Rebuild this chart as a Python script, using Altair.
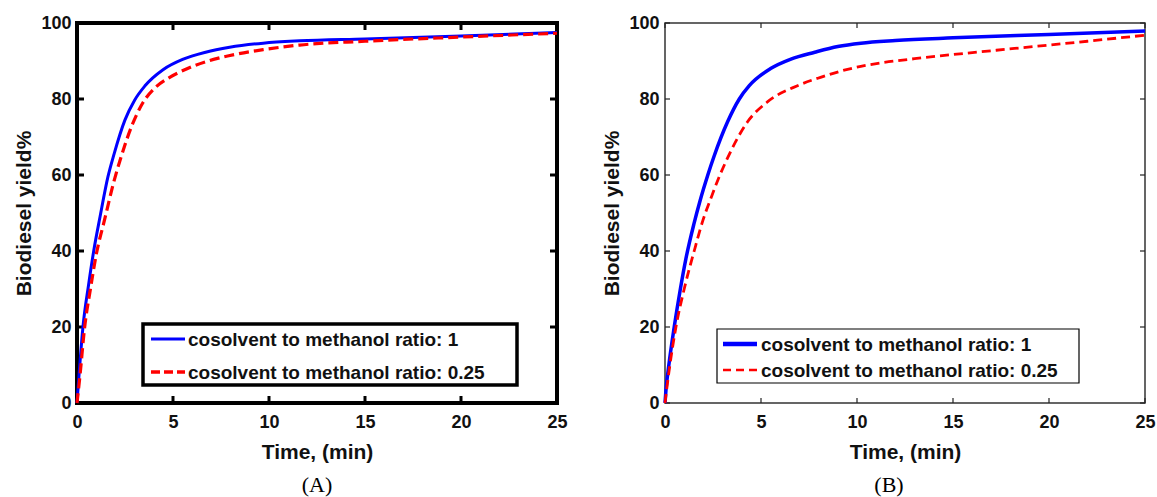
import altair as alt
import pandas as pd

# ---- Panel (A) curves: time (min) vs biodiesel yield (%) ----
a_ratio1_t = [0, 0.1, 0.31, 0.6, 0.87, 1.2, 1.61, 1.93, 2.5, 3.0, 3.53, 4.48, 5.5, 6.7, 7.95, 9.7, 11.6, 15, 20, 25]
a_ratio1_y = [0, 7, 20, 31, 40, 49, 59.5, 65.5, 74.5, 79.7, 83.4, 87.7, 90.4, 92.3, 93.6, 94.7, 95.3, 95.8, 96.6, 97.5]
a_ratio025_t = [0, 0.15, 0.4, 0.7, 1.0, 1.44, 1.96, 2.22, 2.9, 3.43, 4.1, 4.83, 5.7, 6.9, 8.3, 9.7, 11.6, 15, 20, 25]
a_ratio025_y = [0, 7, 20, 30, 39, 48.3, 59, 63.5, 73.5, 79, 83.1, 85.7, 87.9, 90.1, 91.8, 93.0, 94.2, 95.2, 96.3, 97.3]

# ---- Panel (B) curves ----
b_ratio1_t = [0, 0.05, 0.2, 0.48, 0.8, 1.09, 1.5, 1.83, 2.23, 2.56, 3.26, 3.87, 4.39, 5.5, 6.56, 7.8, 9, 10.2, 12, 15, 20, 25]
b_ratio1_y = [0, 3.4, 10, 20, 30, 38, 47, 53.3, 60, 65, 74, 80, 83.5, 88, 90.5, 92.3, 93.8, 94.7, 95.4, 96.1, 97.0, 97.9]
b_ratio025_t = [0, 0.2, 0.57, 1.0, 1.52, 1.97, 2.4, 2.74, 3.26, 4.3, 5.35, 6.9, 8.1, 9.2, 10.2, 11.25, 13, 15, 18.2, 20, 22, 25]
b_ratio025_y = [0, 8, 20, 30, 40, 48, 54, 58.5, 64.5, 74, 79.3, 83.5, 85.7, 87.4, 88.6, 89.5, 90.6, 91.7, 93.3, 94.2, 95.2, 96.8]

x_ticks = [0, 5, 10, 15, 20, 25]
y_ticks = [0, 20, 40, 60, 80, 100]
legend_labels = ["cosolvent to methanol ratio: 1", "cosolvent to methanol ratio: 0.25"]
panel_labels = ["(A)", "(B)"]

W, H = 480, 380
SANS = "Liberation Sans"
SERIF = "Liberation Serif"

x_scale = alt.Scale(domain=[0, 25], nice=False, zero=False)
y_scale = alt.Scale(domain=[0, 100], nice=False, zero=False)
x_axis = alt.Axis(values=x_ticks, title="Time, (min)", labelPadding=10, titlePadding=10)
y_axis = alt.Axis(values=y_ticks, title="Biodiesel yield%", labelPadding=6, titlePadding=6)


def curve(t, y, color, width, dash=None):
    df = pd.DataFrame({"t": t, "y": y})
    kw = dict(color=color, strokeWidth=width, strokeCap="butt", strokeJoin="round",
              interpolate="monotone")
    if dash:
        kw["strokeDash"] = dash
    return alt.Chart(df).mark_line(**kw).encode(
        x=alt.X("t:Q", scale=x_scale, axis=x_axis),
        y=alt.Y("y:Q", scale=y_scale, axis=y_axis),
    )


def inner_ticks(length, width, color):
    xt = pd.DataFrame({"v": x_ticks})
    yt = pd.DataFrame({"v": y_ticks})
    rk = dict(color=color, strokeWidth=width)
    xenc = alt.X("v:Q", scale=x_scale, axis=x_axis)
    yenc = alt.Y("v:Q", scale=y_scale, axis=y_axis)
    return [
        alt.Chart(yt).mark_rule(**rk).encode(y=yenc, x=alt.value(0), x2=alt.value(length)),
        alt.Chart(yt).mark_rule(**rk).encode(y=yenc, x=alt.value(W - length), x2=alt.value(W)),
        alt.Chart(xt).mark_rule(**rk).encode(x=xenc, y=alt.value(H - length), y2=alt.value(H)),
        alt.Chart(xt).mark_rule(**rk).encode(x=xenc, y=alt.value(0), y2=alt.value(length)),
    ]


def legend(box, border, sample_x, rows_y, text_x, widths, dashes):
    one = pd.DataFrame({"k": [0]})
    x0, x1, y0, y1 = box
    parts = [
        alt.Chart(one).mark_rect(fill="white", stroke="black", strokeWidth=border).encode(
            x=alt.value(x0), x2=alt.value(x1), y=alt.value(y0), y2=alt.value(y1)
        )
    ]
    colors = ["#0000ff", "#ff0000"]
    for i, lab in enumerate(legend_labels):
        kw = dict(color=colors[i], strokeWidth=widths[i], strokeCap="butt")
        if dashes[i]:
            kw["strokeDash"] = dashes[i]
        parts.append(
            alt.Chart(one).mark_rule(**kw).encode(
                x=alt.value(sample_x[0]), x2=alt.value(sample_x[1]), y=alt.value(rows_y[i])
            )
        )
        parts.append(
            alt.Chart(pd.DataFrame({"label": [lab]})).mark_text(
                align="left", baseline="middle", font=SANS, fontSize=19, fontWeight="bold", color="#111"
            ).encode(x=alt.value(text_x), y=alt.value(rows_y[i] + 1), text="label:N")
        )
    return parts


def sub_title(text, dx=0):
    return alt.TitleParams(
        text, orient="bottom", font=SERIF, fontSize=22, fontWeight="normal",
        color="black", offset=13, anchor="middle", dx=dx,
    )


panel_a = alt.layer(
    *inner_ticks(7, 3, "black"),
    curve(a_ratio1_t, a_ratio1_y, "#0000ff", 3),
    curve(a_ratio025_t, a_ratio025_y, "#ff0000", 3.2, [10, 5]),
    *legend((66, 440, 301, 362), 3.5, (74, 108), (316, 349), 111, (3, 3.5), (None, [9, 4])),
).properties(
    width=W, height=H,
    view=alt.ViewBackground(stroke="black", strokeWidth=4, fill="white"),
    title=sub_title(panel_labels[0]),
)

panel_b = alt.layer(
    *inner_ticks(5, 1.2, "#222"),
    curve(b_ratio1_t, b_ratio1_y, "#0000ff", 3.5),
    curve(b_ratio025_t, b_ratio025_y, "#ff0000", 2.8, [9, 5]),
    *legend((52, 414, 306, 360), 1.2, (58, 92), (321, 347), 96, (4.5, 2.5), (None, [8, 5])),
).properties(
    width=W, height=H,
    view=alt.ViewBackground(stroke="#333", strokeWidth=1.5, fill="white"),
    title=sub_title(panel_labels[1], dx=-16),
)

chart = alt.hconcat(panel_a, panel_b, spacing=31).properties(
    padding={"left": 11, "top": 12, "right": 0, "bottom": 0},
    background="white",
).configure_axis(
    labelFont=SANS, labelFontSize=18, labelFontWeight="bold", labelColor="#111",
    titleFont=SANS, titleFontSize=21, titleFontWeight="bold", titleColor="#111",
    domain=False, grid=False, ticks=False, labelFlush=False,
).configure_view(stroke=None)

chart.save("out.html", embed_options={"renderer": "svg", "actions": False})
